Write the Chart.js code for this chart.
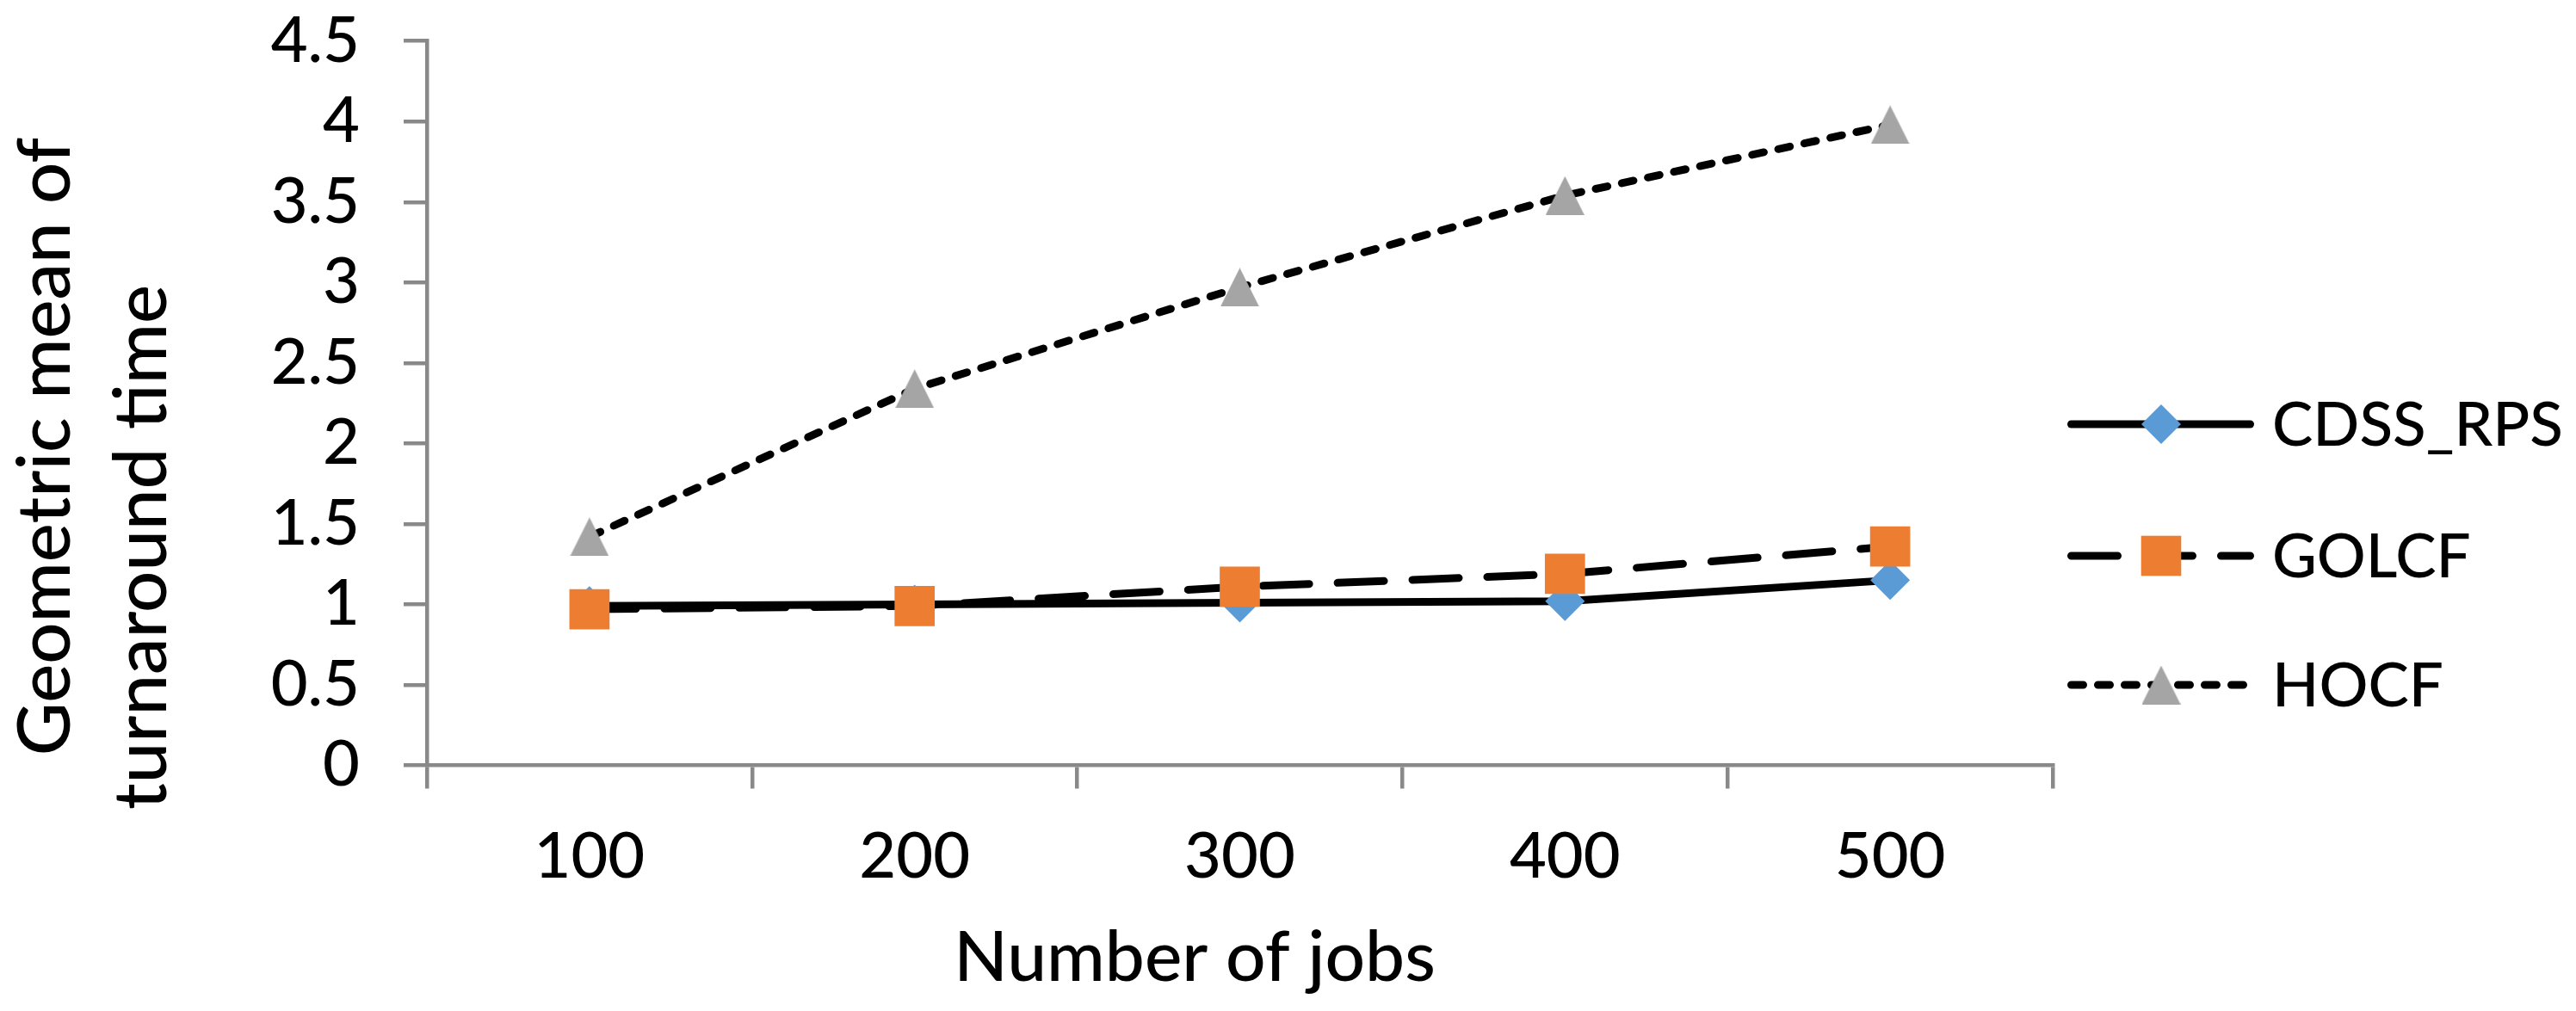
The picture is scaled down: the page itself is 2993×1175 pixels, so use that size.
<!DOCTYPE html>
<html>
<head>
<meta charset="utf-8">
<script src="https://cdn.jsdelivr.net/npm/chart.js@4.4.1/dist/chart.umd.min.js"></script>
<style>
  html, body { margin: 0; padding: 0; background: #ffffff; }
  #wrap { width: 2993px; height: 1175px; position: relative; }
</style>
</head>
<body>
<div id="wrap"><canvas id="c"></canvas></div>
<script>
// ---- data ----
const categories = ['100', '200', '300', '400', '500'];
const cdssRps = [0.99, 1.00, 1.01, 1.02, 1.15];
const golcf   = [0.97, 0.99, 1.11, 1.19, 1.36];
const hocf    = [1.42, 2.34, 2.97, 3.54, 3.98];
const seriesNames = ['CDSS_RPS', 'GOLCF', 'HOCF'];
const yTicks = [0, 0.5, 1, 1.5, 2, 2.5, 3, 3.5, 4, 4.5];
const xTitle = 'Number of jobs';
const yTitle = ['Geometric mean of', 'turnaround time'];

// ---- styles ----
const AXIS = '#898989';
const FONT = 'Lato';
const W = '500';

function triangleImage(size, color) {
  const c = document.createElement('canvas');
  c.width = size; c.height = size;
  const g = c.getContext('2d');
  g.fillStyle = color;
  g.beginPath();
  g.moveTo(size / 2, 0);
  g.lineTo(size, size);
  g.lineTo(0, size);
  g.closePath();
  g.fill();
  return c;
}
const triImg = triangleImage(45, '#A5A5A5');

const decor = {
  id: 'decor',
  afterDraw(chart) {
    const ctx = chart.ctx;
    ctx.save();
    ctx.fillStyle = '#000';
    // x title
    ctx.font = W + ' 82px ' + FONT;
    ctx.textAlign = 'center';
    ctx.textBaseline = 'alphabetic';
    ctx.fillText(xTitle, 1388, 1140);
    // y title (two lines, rotated)
    ctx.font = W + ' 85px ' + FONT;
    const yPos = [[81, 519], [193, 636]];
    yTitle.forEach((t, i) => {
      ctx.save();
      ctx.translate(yPos[i][0], yPos[i][1]);
      ctx.rotate(-Math.PI / 2);
      ctx.fillText(t, 0, 0);
      ctx.restore();
    });
    // legend
    ctx.font = W + ' 72px ' + FONT;
    let widest = 0;
    chart.data.datasets.forEach(ds => { widest = Math.max(widest, ctx.measureText(ds.label).width); });
    const legSize = Math.min(72, 72 * 338 / widest);
    const rows = [493, 646, 796];
    chart.data.datasets.forEach((ds, i) => {
      const y = rows[i];
      ctx.save();
      ctx.strokeStyle = ds.borderColor;
      ctx.lineWidth = ds.borderWidth;
      ctx.lineCap = ds.borderCapStyle || 'butt';
      ctx.setLineDash(ds.borderDash || []);
      ctx.beginPath();
      ctx.moveTo(2406.5, y);
      ctx.lineTo(2614.5, y);
      ctx.stroke();
      ctx.restore();
      const mx = 2511;
      ctx.fillStyle = ds.pointBackgroundColor || '#000';
      if (ds.pointStyle === 'rectRot') {
        ctx.beginPath();
        ctx.moveTo(mx, y - 23); ctx.lineTo(mx + 23, y);
        ctx.lineTo(mx, y + 23); ctx.lineTo(mx - 23, y);
        ctx.closePath(); ctx.fill();
      } else if (ds.pointStyle === 'rect') {
        ctx.fillRect(mx - 23.3, y - 23.3, 46.6, 46.6);
      } else if (ds.pointStyle && ds.pointStyle.getContext) {
        ctx.drawImage(ds.pointStyle, mx - ds.pointStyle.width / 2, y - ds.pointStyle.height / 2);
      }
      ctx.fillStyle = '#000';
      ctx.font = W + ' ' + legSize + 'px ' + FONT;
      ctx.textAlign = 'left';
      ctx.textBaseline = 'alphabetic';
      ctx.fillText(ds.label, 2640, y + legSize * 0.358);
    });
    ctx.restore();
  }
};

new Chart(document.getElementById('c'), {
  type: 'line',
  data: {
    labels: categories,
    datasets: [
      {
        label: seriesNames[0], data: cdssRps, order: 3,
        borderColor: '#000000', borderWidth: 9, borderCapStyle: 'round',
        pointStyle: 'rectRot', pointRadius: 23, pointHoverRadius: 23,
        pointBackgroundColor: '#5B9BD5', pointBorderColor: '#5B9BD5', pointBorderWidth: 0,
        fill: false, tension: 0
      },
      {
        label: seriesNames[1], data: golcf, order: 2,
        borderColor: '#000000', borderWidth: 9, borderCapStyle: 'round', borderDash: [54, 33],
        pointStyle: 'rect', pointRadius: 33, pointHoverRadius: 33,
        pointBackgroundColor: '#ED7D31', pointBorderColor: '#ED7D31', pointBorderWidth: 0,
        fill: false, tension: 0
      },
      {
        label: seriesNames[2], data: hocf, order: 1,
        borderColor: '#000000', borderWidth: 9, borderCapStyle: 'round', borderDash: [14, 17],
        pointStyle: triImg, pointRadius: 22, pointHoverRadius: 22,
        pointBackgroundColor: '#A5A5A5', pointBorderColor: '#A5A5A5', pointBorderWidth: 0,
        fill: false, tension: 0
      }
    ]
  },
  options: {
    responsive: true,
    maintainAspectRatio: false,
    animation: false,
    events: [],
    layout: { padding: { left: 0, top: 47.7, right: 608, bottom: 135.5 } },
    plugins: { legend: { display: false }, tooltip: { enabled: false }, title: { display: false } },
    scales: {
      x: {
        type: 'category',
        offset: true,
        grid: {
          display: true, offset: true, drawOnChartArea: false, drawTicks: true,
          tickLength: 27, tickWidth: 4.5, lineWidth: 4.5, color: AXIS, tickColor: AXIS
        },
        border: { display: true, color: AXIS, width: 4.5 },
        ticks: {
          color: '#000', font: { family: FONT, size: 74, weight: W }, padding: 35,
          maxRotation: 0, minRotation: 0, autoSkip: false
        },
        afterFit(s) { s.height = 150; s.paddingLeft = 0; s.paddingRight = 0; }
      },
      y: {
        type: 'linear',
        min: 0, max: 4.5,
        afterBuildTicks(s) { s.ticks = yTicks.map(v => ({ value: v })); },
        grid: {
          display: true, drawOnChartArea: false, drawTicks: true,
          tickLength: 27, tickWidth: 4.5, lineWidth: 4.5, color: AXIS, tickColor: AXIS
        },
        border: { display: true, color: AXIS, width: 4.5 },
        ticks: {
          color: '#000', font: { family: FONT, size: 74, weight: W }, padding: 51,
          autoSkip: false, callback: v => String(v)
        },
        afterFit(s) { s.width = 496; s.paddingTop = 0; s.paddingBottom = 0; }
      }
    }
  },
  plugins: [decor]
});
</script>
</body>
</html>
